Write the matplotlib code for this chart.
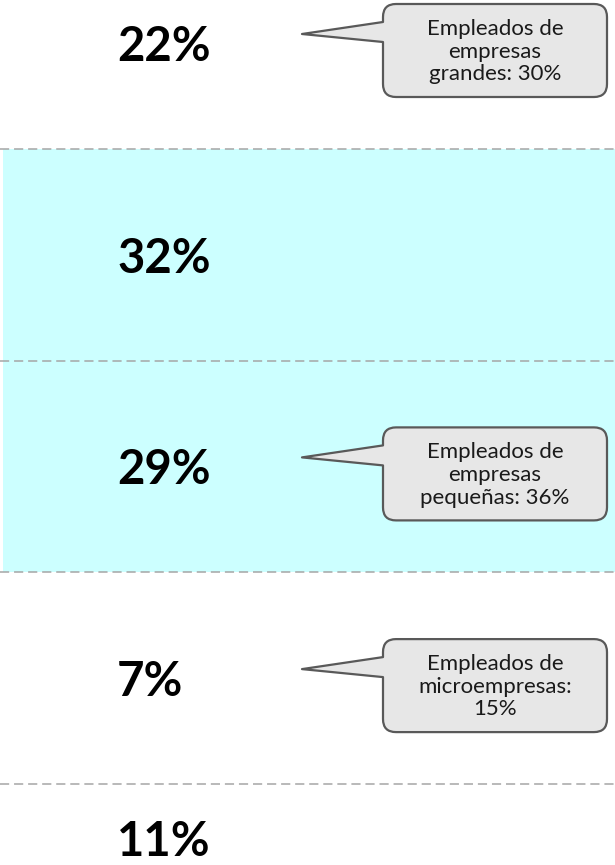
import numpy as np
import matplotlib.pyplot as plt
from matplotlib.path import Path
from matplotlib.patches import PathPatch

# valores por fila (de arriba a abajo)
porcentajes = ["22%", "32%", "29%", "7%", "11%"]
filas_sombreadas = [1, 2]

# globos de texto: fila y texto
globo_filas = [0, 2, 3]
globo_textos = ["Empleados de\nempresas\ngrandes: 30%",
                "Empleados de\nempresas\npequeñas: 36%",
                "Empleados de\nmicroempresas:\n15%"]

plt.rcParams["font.family"] = ["Lato", "DejaVu Sans"]

W, H = 615, 865
ROW = 211.7          # alto de fila en pixeles
TOP = -43.0 / ROW    # fila 0 centrada en y=43 px

fig = plt.figure(figsize=(W / 100, H / 100), dpi=100)
ax = fig.add_axes([0, 0, 1, 1])
ax.set_xlim(0, 1)
ax.set_ylim(TOP + H / ROW, TOP)
ax.axis("off")

# bandas sombreadas
for r in filas_sombreadas:
    ax.axhspan(r - 0.5, r + 0.5, xmin=0.005, xmax=1, color="#CCFFFF", lw=0, zorder=0)

# separadores
for k in range(len(porcentajes) - 1):
    ax.axhline(k + 0.5, color="#A6A6A6", lw=1.1, ls=(0, (6, 3.2)), zorder=1)

# etiquetas grandes
label_y = [0, 1, 2, 3, 3.755]
for y, t in zip(label_y, porcentajes):
    ax.text(117 / W, y, t, ha="left", va="center_baseline",
            fontsize=34, fontweight="bold", color="black")


def globo(ax, row, texto):
    px = lambda v: v / W
    py = lambda v: v / ROW
    x0, x1 = px(383), px(607)
    top = row + py(-39)
    bot = row + py(54)
    rx, ry = px(13), py(13)
    tip = (px(302), row + py(-9))
    b1 = row + py(-21)
    b2 = row + py(-1)
    verts = [
        (x0 + rx, top), (x1 - rx, top), (x1, top), (x1, top + ry),
        (x1, bot - ry), (x1, bot), (x1 - rx, bot),
        (x0 + rx, bot), (x0, bot), (x0, bot - ry),
        (x0, b2), tip, (x0, b1),
        (x0, top + ry), (x0, top), (x0 + rx, top),
        (x0 + rx, top),
    ]
    codes = [Path.MOVETO, Path.LINETO, Path.CURVE3, Path.CURVE3,
             Path.LINETO, Path.CURVE3, Path.CURVE3,
             Path.LINETO, Path.CURVE3, Path.CURVE3,
             Path.LINETO, Path.LINETO, Path.LINETO,
             Path.LINETO, Path.CURVE3, Path.CURVE3,
             Path.CLOSEPOLY]
    ax.add_patch(PathPatch(Path(verts, codes), fc="#E7E7E7", ec="#595959",
                           lw=1.6, joinstyle="round", zorder=3))
    ax.text((x0 + x1) / 2, (top + bot) / 2 + py(1), texto, ha="center", va="center",
            fontsize=16, linespacing=1.17, color="#1a1a1a", zorder=4)


for r, t in zip(globo_filas, globo_textos):
    globo(ax, r, t)

fig.savefig("out.png", dpi=100)
